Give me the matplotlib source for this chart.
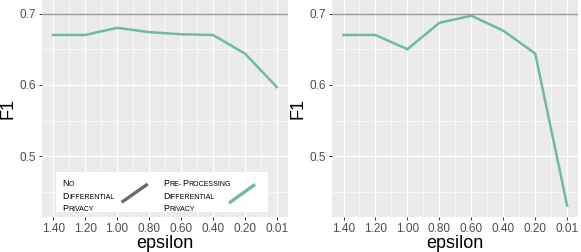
import matplotlib
matplotlib.use("Agg")
import matplotlib.pyplot as plt

# Data
eps_labels = ["1.40", "1.20", "1.00", "0.80", "0.60", "0.40", "0.20", "0.01"]
f1_left = [0.670, 0.670, 0.680, 0.674, 0.671, 0.670, 0.644, 0.597]
f1_right = [0.670, 0.670, 0.650, 0.687, 0.697, 0.676, 0.644, 0.431]
baseline_f1 = 0.70
y_ticks = [0.5, 0.6, 0.7]

plt.rcParams["font.family"] = ["Liberation Sans", "DejaVu Sans"]

TEAL = "#6dbba6"
BG = "#ebebeb"


def style_axes(ax):
    x = list(range(len(eps_labels)))
    ax.set_facecolor(BG)
    for s in ax.spines.values():
        s.set_visible(False)
    ax.set_xlim(-0.35, len(eps_labels) - 0.65)
    ax.set_ylim(0.415, 0.719)
    ax.set_xticks(x)
    ax.set_xticklabels(eps_labels)
    ax.set_xticks([i + 0.5 for i in x[:-1]], minor=True)
    ax.set_yticks(y_ticks)
    ax.set_yticklabels([str(v) for v in y_ticks])
    ax.set_yticks([0.45, 0.55, 0.65], minor=True)
    ax.grid(which="major", color="white", lw=0.9)
    ax.grid(which="minor", color="white", lw=0.45)
    ax.set_axisbelow(True)
    ax.tick_params(which="major", length=2.5, width=0.7, color="#333333",
                   labelsize=8.5, labelcolor="#4d4d4d", pad=2)
    ax.tick_params(which="minor", length=0)
    ax.set_xlabel("epsilon", fontsize=13, labelpad=0)
    ax.set_ylabel("F1", fontsize=13, labelpad=2)


def small_caps(ax, x, y, text, big=6.4, small=5.0):
    # fake small caps by chaining text pieces
    prev = None
    pieces = []
    for ch in text:
        is_big = ch.isupper()
        if pieces and pieces[-1][1] == is_big:
            pieces[-1][0] += ch.upper()
        else:
            pieces.append([ch.upper(), is_big])
    for s, is_big in pieces:
        size = big if is_big else small
        if prev is None:
            prev = ax.text(x, y, s, transform=ax.transAxes, fontsize=size,
                           va="bottom", ha="left", zorder=6)
        else:
            prev = ax.annotate(s, xy=(1, 0), xycoords=prev,
                               xytext=(0.3, 0), textcoords="offset points",
                               fontsize=size, va="bottom", ha="left", zorder=6)


fig = plt.figure(figsize=(5.81, 2.52), dpi=100)
ax1 = fig.add_axes([0.0723, 0.139, 0.4234, 0.861])
ax2 = fig.add_axes([0.572, 0.139, 0.4234, 0.861])

for ax, vals in [(ax1, f1_left), (ax2, f1_right)]:
    style_axes(ax)
    ax.axhline(baseline_f1, color="#9b9b9b", lw=1.0, zorder=3)
    ax.plot(range(len(vals)), vals, color=TEAL, lw=1.8, zorder=4)

# Legend (drawn manually to mimic the ggplot small-caps style)
rect = plt.Rectangle((0.056, 0.022), 0.862, 0.184, transform=ax1.transAxes,
                     facecolor="white", edgecolor="none", zorder=5)
ax1.add_patch(rect)
for i, word in enumerate(["No", "Differential", "Privacy"]):
    small_caps(ax1, 0.082, 0.133 - i * 0.058, word)
for i, word in enumerate(["Pre-Processing", "Differential", "Privacy"]):
    small_caps(ax1, 0.492, 0.133 - i * 0.058, word)
ax1.plot([0.324, 0.43], [0.068, 0.152], transform=ax1.transAxes,
         color="#6b6b6b", lw=2.4, solid_capstyle="butt", zorder=6)
ax1.plot([0.76, 0.866], [0.064, 0.150], transform=ax1.transAxes,
         color=TEAL, lw=2.4, solid_capstyle="butt", zorder=6)

fig.savefig("out.png", dpi=100)
